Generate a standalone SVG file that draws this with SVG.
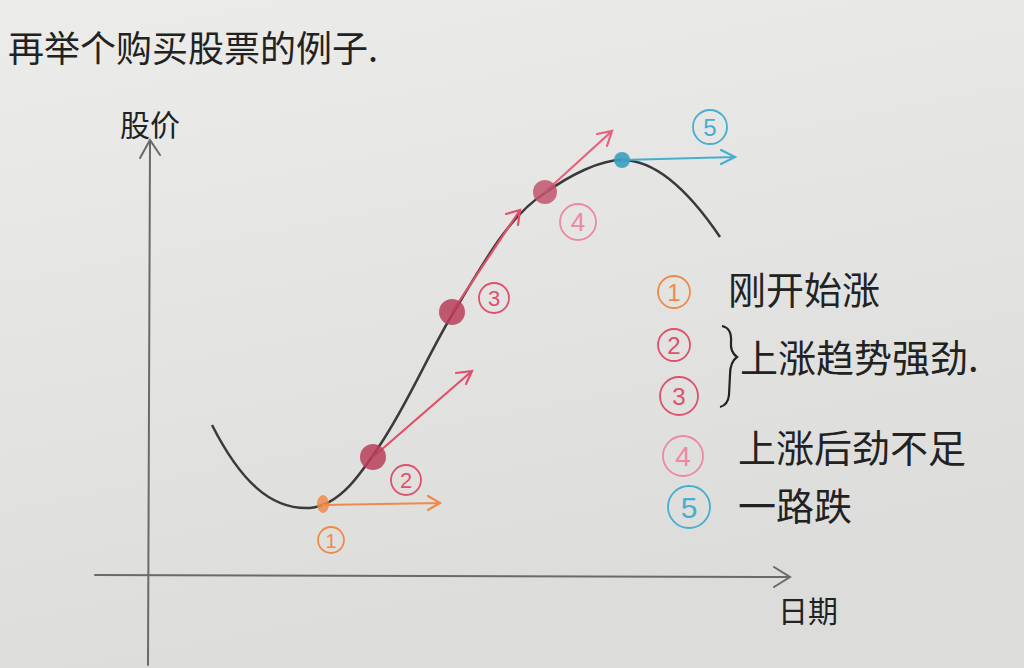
<svg xmlns="http://www.w3.org/2000/svg" width="1024" height="668" viewBox="0 0 1024 668">
<defs>
<linearGradient id="paper" x1="0" y1="0" x2="0.3" y2="1">
<stop offset="0" stop-color="#ececeb"/>
<stop offset="1" stop-color="#dcdcdb"/>
</linearGradient>
<style>
.hand{font-family:"Noto Sans CJK SC","Noto Sans CJK JP",sans-serif;fill:#222}
.axis{stroke:#6a6a6a;stroke-width:2;fill:none;stroke-linecap:round}
.curve{stroke:#3a3a3a;stroke-width:2.5;fill:none}
.num{font-family:"Liberation Sans",sans-serif;text-anchor:middle}
</style>
</defs>
<rect width="1024" height="668" fill="url(#paper)"/>
<g id="title"><text class="hand" x="8" y="62" font-size="36">再举个购买股票的例子.</text></g>
<g id="axes">
<path class="axis" d="M148,665 L150,142 M140,158 L150,140 L160,155"/>
<path class="axis" d="M95,575 L790,577 M774,567 L790,577 L774,587"/>
<text class="hand" x="120" y="136" font-size="30">股价</text>
<text class="hand" x="778" y="622" font-size="30">日期</text>
</g>
<g id="curve"><path class="curve" d="M212,425 C240,480 270,510 310,508 C340,505 360,475 380,445 C410,400 430,350 455,310 C485,260 510,215 545,193 C570,175 600,160 622,160 C660,160 695,200 720,237"/></g>
<g id="connectors" fill="none" stroke-width="2.2" stroke-linecap="round">
<path d="M323,505 L440,503 M428,496 L440,503 L428,510" stroke="#f08a4b"/>
<path d="M373,457 L472,371 M456,373 L472,371 L466,384" stroke="#e0506a"/>
<path d="M452,312 L520,210 M506,214 L520,210 L518,225" stroke="#e0506a"/>
<path d="M545,192 L612,131 M597,134 L612,131 L607,146" stroke="#e8607a"/>
<path d="M622,160 L735,157 M721,150 L735,157 L721,164" stroke="#48aed0"/>
</g>
<g id="point1"><ellipse cx="323" cy="504" rx="6" ry="9" fill="#f08a4b" opacity="0.85"/>
<circle cx="331" cy="540" r="13" fill="none" stroke="#f08a4b" stroke-width="1.8"/><text class="num" x="331" y="548" font-size="20" fill="#f08a4b">1</text></g>
<g id="point2"><circle cx="373" cy="457" r="13" fill="#b8405a" opacity="0.85"/>
<circle cx="406" cy="480" r="15" fill="none" stroke="#e0506a" stroke-width="1.8"/><text class="num" x="406" y="488" font-size="22" fill="#e0506a">2</text></g>
<g id="point3"><circle cx="452" cy="312" r="13" fill="#b8405a" opacity="0.85"/>
<circle cx="494" cy="298" r="15" fill="none" stroke="#e0506a" stroke-width="1.8"/><text class="num" x="494" y="306" font-size="22" fill="#e0506a">3</text></g>
<g id="point4"><circle cx="545" cy="192" r="12" fill="#c05570" opacity="0.85"/>
<circle cx="578" cy="222" r="18" fill="none" stroke="#ec8aa0" stroke-width="1.8"/><text class="num" x="578" y="231" font-size="26" fill="#ec8aa0">4</text></g>
<g id="point5"><circle cx="622" cy="160" r="8" fill="#3a9ec0" opacity="0.9"/>
<circle cx="710" cy="127" r="17" fill="none" stroke="#48aed0" stroke-width="1.8"/><text class="num" x="710" y="136" font-size="24" fill="#48aed0">5</text></g>
<g id="legend1"><circle cx="674" cy="292" r="16" fill="none" stroke="#f08a4b" stroke-width="1.8"/><text class="num" x="674" y="301" font-size="24" fill="#f08a4b">1</text>
<text class="hand" x="728" y="304" font-size="38">刚开始涨</text></g>
<g id="legend2"><circle cx="674" cy="345" r="16" fill="none" stroke="#e0506a" stroke-width="1.8"/><text class="num" x="674" y="354" font-size="24" fill="#e0506a">2</text>
<circle cx="679" cy="396" r="19" fill="none" stroke="#e0506a" stroke-width="1.8"/><text class="num" x="679" y="405" font-size="24" fill="#e0506a">3</text>
<path d="M722,326 Q732,328 731,342 Q730,352 737,357 Q730,362 730,375 L729,395 Q728,405 720,407" fill="none" stroke="#222" stroke-width="2.2"/>
<text class="hand" x="740" y="372" font-size="38">上涨趋势强劲.</text></g>
<g id="legend4"><circle cx="683" cy="456" r="20" fill="none" stroke="#ec8aa0" stroke-width="1.8"/><text class="num" x="683" y="466" font-size="28" fill="#ec8aa0">4</text>
<text class="hand" x="738" y="462" font-size="38">上涨后劲不足</text></g>
<g id="legend5"><circle cx="689" cy="507" r="21" fill="none" stroke="#48aed0" stroke-width="1.8"/><text class="num" x="689" y="518" font-size="30" fill="#48aed0">5</text>
<text class="hand" x="738" y="520" font-size="38">一路跌</text></g>
</svg>
